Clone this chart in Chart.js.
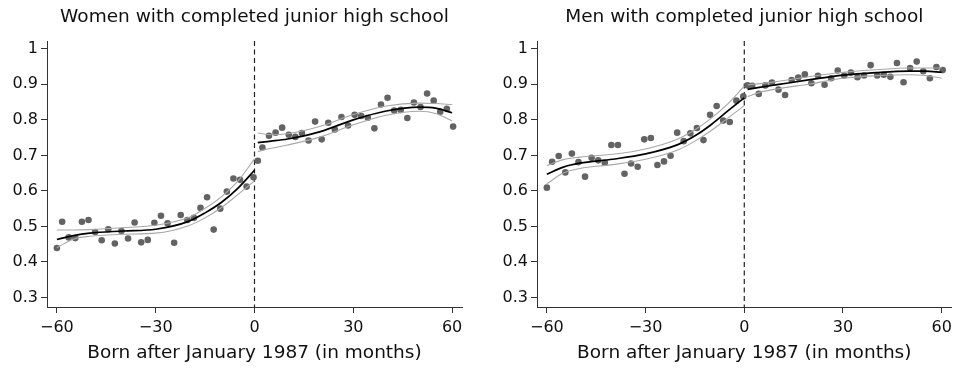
<!DOCTYPE html>
<html>
<head>
<meta charset="utf-8">
<script src="https://cdn.jsdelivr.net/npm/chart.js@4.4.1/dist/chart.umd.min.js"></script>
<style>
    html, body { margin: 0; padding: 0; background: #fff; }
    .panel { position: absolute; top: 0; height: 368px; }
    #womenBox { left: 0; width: 480px; }
    #menBox { left: 480px; width: 477px; }
</style>
</head>
<body>
<div class="panel" id="womenBox"><canvas id="WomenChart"></canvas></div>
<div class="panel" id="menBox"><canvas id="MenChart"></canvas></div>
<script>
// birth month relative to January 1987 (bin positions)
const months = [-60, -58.4, -56.4, -54.4, -52.4, -50.4, -48.4, -46.4, -44.4, -42.4, -40.4, -38.4, -36.4, -34.4, -32.4,
    -30.4, -28.4, -26.4, -24.4, -22.4, -20.4, -18.4, -16.4, -14.4, -12.4, -10.4, -8.4, -6.4, -4.4, -2.4, -0.3,
    1, 2.4, 4.4, 6.4, 8.4, 10.4, 12.4, 14.4, 16.4, 18.4, 20.4, 22.4, 24.4, 26.4, 28.4, 30.4,
    32.4, 34.4, 36.4, 38.4, 40.4, 42.4, 44.4, 46.4, 48.4, 50.4, 52.4, 54.4, 56.4, 58.4, 60.3];

const women = [0.439, 0.513, 0.469, 0.467, 0.513, 0.518, 0.484, 0.461, 0.492, 0.452, 0.487, 0.466, 0.511, 0.455, 0.462,
    0.510, 0.530, 0.509, 0.454, 0.532, 0.518, 0.524, 0.552, 0.582, 0.491, 0.550, 0.598, 0.635, 0.631, 0.612, 0.638,
    0.685, 0.722, 0.755, 0.764, 0.778, 0.758, 0.752, 0.763, 0.742, 0.795, 0.745, 0.792, 0.773, 0.808, 0.784, 0.814,
    0.811, 0.806, 0.776, 0.843, 0.862, 0.826, 0.828, 0.805, 0.849, 0.836, 0.874, 0.854, 0.823, 0.831, 0.781];

const men = [0.609, 0.682, 0.698, 0.652, 0.705, 0.681, 0.640, 0.693, 0.686, 0.679, 0.729, 0.729, 0.648, 0.677, 0.668,
    0.745, 0.749, 0.673, 0.683, 0.699, 0.764, 0.740, 0.762, 0.777, 0.743, 0.814, 0.839, 0.798, 0.794, 0.854, 0.866,
    0.897, 0.896, 0.873, 0.897, 0.905, 0.885, 0.870, 0.912, 0.919, 0.928, 0.903, 0.924, 0.899, 0.917, 0.939, 0.925,
    0.933, 0.920, 0.925, 0.954, 0.925, 0.927, 0.921, 0.960, 0.906, 0.946, 0.964, 0.937, 0.917, 0.949, 0.940];

// fitted polynomial and confidence bands, each side of the cutoff
const fitLeftX = [-60, -55, -50, -40, -30, -20, -15, -10, -5, 0];
const fitRightX = [1, 5, 10, 20, 30, 40, 50, 55, 60];

const womenFitLeft = [0.463, 0.474, 0.481, 0.487, 0.492, 0.514, 0.538, 0.568, 0.608, 0.658];
const womenUpperLeft = [0.490, 0.490, 0.491, 0.496, 0.503, 0.525, 0.551, 0.584, 0.628, 0.690];
const womenLowerLeft = [0.440, 0.464, 0.472, 0.478, 0.481, 0.502, 0.524, 0.553, 0.590, 0.628];
const womenFitRight = [0.736, 0.740, 0.746, 0.767, 0.800, 0.825, 0.836, 0.833, 0.820];
const womenUpperRight = [0.763, 0.758, 0.761, 0.782, 0.815, 0.839, 0.847, 0.846, 0.843];
const womenLowerRight = [0.711, 0.720, 0.729, 0.752, 0.786, 0.813, 0.824, 0.818, 0.797];

const menFitLeft = [0.647, 0.667, 0.678, 0.689, 0.704, 0.731, 0.755, 0.787, 0.825, 0.862];
const menUpperLeft = [0.671, 0.688, 0.695, 0.703, 0.718, 0.747, 0.772, 0.805, 0.845, 0.895];
const menLowerLeft = [0.620, 0.650, 0.663, 0.674, 0.689, 0.716, 0.740, 0.770, 0.805, 0.840];
const menFitRight = [0.886, 0.892, 0.899, 0.913, 0.926, 0.933, 0.937, 0.937, 0.934];
const menUpperRight = [0.899, 0.902, 0.908, 0.922, 0.934, 0.941, 0.946, 0.946, 0.946];
const menLowerRight = [0.866, 0.878, 0.887, 0.901, 0.917, 0.924, 0.927, 0.925, 0.917];

const xTicks = [-60, -30, 0, 30, 60];
const yTicks = [0.3, 0.4, 0.5, 0.6, 0.7, 0.8, 0.9, 1];

const FONT = "'DejaVu Sans', sans-serif";

function pairs(xs, ys) {
    return xs.map((x, i) => ({ x: x, y: ys[i] }));
}

function lineSet(xs, ys, color, width) {
    return {
        type: 'line',
        data: pairs(xs, ys),
        borderColor: color,
        borderWidth: width,
        pointRadius: 0,
        fill: false,
        cubicInterpolationMode: 'monotone'
    };
}

// cutoff line and panel title
const panelDecor = {
    id: 'panelDecor',
    beforeDatasetsDraw(chart) {
        const ctx = chart.ctx;
        const area = chart.chartArea;
        const x0 = chart.scales.x.getPixelForValue(0);
        ctx.save();
        ctx.strokeStyle = '#222';
        ctx.lineWidth = 1.2;
        ctx.setLineDash([5, 3.5]);
        ctx.beginPath();
        ctx.moveTo(x0, area.top);
        ctx.lineTo(x0, area.bottom);
        ctx.stroke();
        ctx.restore();
    },
    afterDraw(chart, args, opts) {
        const ctx = chart.ctx;
        const area = chart.chartArea;
        ctx.save();
        ctx.font = '18.5px ' + FONT;
        ctx.fillStyle = '#111';
        ctx.textAlign = 'center';
        ctx.textBaseline = 'middle';
        ctx.fillText(opts.title, (area.left + area.right) / 2, 17);
        ctx.restore();
    }
};

function createPanel(canvasId, title, values, fits, axisWidth, rightPad) {
    const ctx = document.getElementById(canvasId).getContext('2d');
    return new Chart(ctx, {
        type: 'scatter',
        data: {
            datasets: [
                lineSet(fitLeftX, fits[0], '#000', 1.7),
                lineSet(fitRightX, fits[3], '#000', 1.7),
                lineSet(fitLeftX, fits[1], '#a8a8a8', 1.1),
                lineSet(fitLeftX, fits[2], '#a8a8a8', 1.1),
                lineSet(fitRightX, fits[4], '#a8a8a8', 1.1),
                lineSet(fitRightX, fits[5], '#a8a8a8', 1.1),
                {
                    data: pairs(months, values),
                    pointRadius: 3.3,
                    pointBackgroundColor: '#636363',
                    pointBorderWidth: 0,
                    showLine: false
                }
            ]
        },
        options: {
            responsive: true,
            maintainAspectRatio: false,
            animation: false,
            layout: { padding: { top: 41, right: rightPad, bottom: 0, left: 0 } },
            plugins: {
                legend: { display: false },
                tooltip: { enabled: false },
                panelDecor: { title: title }
            },
            scales: {
                x: {
                    type: 'linear',
                    min: -63,
                    max: 63,
                    afterBuildTicks: scale => { scale.ticks = xTicks.map(v => ({ value: v })); },
                    afterFit: scale => { scale.height = 61; },
                    grid: { drawOnChartArea: false, tickLength: 6, color: '#333' },
                    border: { color: '#333', width: 1 },
                    ticks: {
                        padding: 5,
                        color: '#111',
                        font: { family: FONT, size: 16 },
                        callback: v => v < 0 ? '\u2212' + Math.abs(v) : String(v)
                    },
                    title: {
                        display: true,
                        text: 'Born after January 1987 (in months)',
                        color: '#111',
                        font: { family: FONT, size: 18.5 },
                        padding: { top: 0, bottom: 4 }
                    }
                },
                y: {
                    type: 'linear',
                    min: 0.273,
                    max: 1.022,
                    afterBuildTicks: scale => { scale.ticks = yTicks.map(v => ({ value: v })); },
                    afterFit: scale => { scale.width = axisWidth; },
                    grid: { drawOnChartArea: false, tickLength: 6, color: '#333' },
                    border: { color: '#333', width: 1 },
                    ticks: {
                        padding: 3,
                        color: '#111',
                        font: { family: FONT, size: 16 },
                        callback: v => v === 1 ? '1' : v.toFixed(1)
                    }
                }
            }
        },
        plugins: [panelDecor]
    });
}

createPanel('WomenChart', 'Women with completed junior high school', women,
    [womenFitLeft, womenUpperLeft, womenLowerLeft, womenFitRight, womenUpperRight, womenLowerRight], 47, 18);
createPanel('MenChart', 'Men with completed junior high school', men,
    [menFitLeft, menUpperLeft, menLowerLeft, menFitRight, menUpperRight, menLowerRight], 57, 5);
</script>
</body>
</html>
